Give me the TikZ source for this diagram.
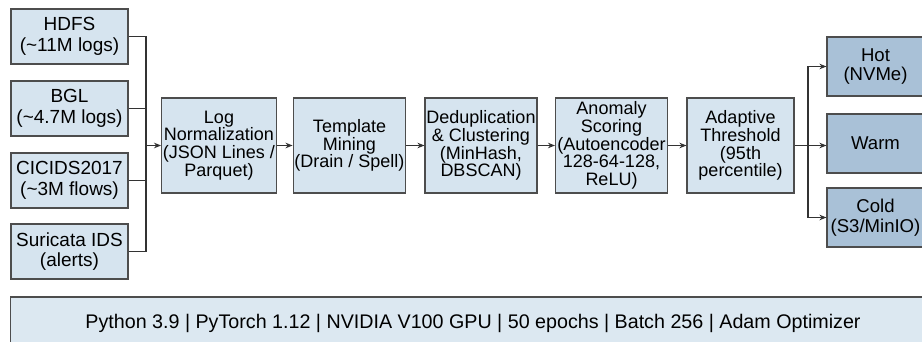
\documentclass[tikz,border=0pt]{standalone}
\usepackage{fontspec}
\setmainfont{Liberation Sans}
\usetikzlibrary{arrows.meta,positioning}
\definecolor{boxblue}{HTML}{D6E4EF}
\definecolor{storeblue}{HTML}{A9C1D7}
\definecolor{barblue}{HTML}{DCE8F1}
\definecolor{linegray}{HTML}{4D4D4D}

\begin{document}
\begin{tikzpicture}[x=0.025cm,y=-0.025cm,
    box/.style={draw=linegray,fill=boxblue,line width=0.8pt,align=center,inner sep=1pt,
                font=\fontsize{12.8}{12.6}\selectfont},
    src/.style={box,minimum width=2.925cm,minimum height=1.375cm,
                font=\fontsize{13.5}{14.5}\selectfont},
    proc/.style={box,minimum width=2.8cm,minimum height=2.375cm},
    store/.style={box,fill=storeblue,minimum width=2.425cm,minimum height=1.475cm,
                font=\fontsize{13.2}{14}\selectfont},
    wire/.style={draw=black!80,line width=0.8pt},
    arr/.style={wire,-{Stealth[length=5pt,width=4pt]}}]
    \useasboundingbox (0,0) rectangle (922,342);
    \clip (0,0) rectangle (922,342);
    % data sources
    \node[src] (hdfs) at (69.5,36.5)  {HDFS\\(\textasciitilde 11M logs)};
    \node[src] (bgl)  at (69.5,108.5) {BGL\\(\textasciitilde 4.7M logs)};
    \node[src] (cic)  at (69.5,180.5) {CICIDS2017\\(\textasciitilde 3M flows)};
    \node[src] (suri) at (69.5,251.5) {Suricata IDS\\(alerts)};
    \coordinate (bus) at (146,145.5);
    % pipeline
    \node[proc] (norm)   at (219,145.5)   {Log\\Normalization\\(JSON Lines /\\Parquet)};
    \node[proc] (tmpl)   at (349.5,145.5) {Template\\Mining\\(Drain / Spell)};
    \node[proc] (dedup)  at (481,145.5)   {Deduplication\\\& Clustering\\(MinHash,\\DBSCAN)};
    \node[proc] (score)  at (611.5,145.5) {Anomaly\\Scoring\\(Autoencoder\\128-64-128,\\ReLU)};
    \node[proc,minimum width=2.675cm] (thresh) at (740.5,145.5) {Adaptive\\Threshold\\(95th\\percentile)};
    \coordinate (fork) at (808,145.5);
    % storage tiers
    \node[store] (hot)  at (875.5,66.5)  {Hot\\(NVMe)};
    \node[store] (warm) at (875.5,143.5) {Warm};
    \node[store] (cold) at (875.5,217.5) {Cold\\(S3/MinIO)};
    % environment bar
    \node[box,fill=barblue,minimum width=23.1cm,minimum height=1.3cm,
          font=\fontsize{14}{16}\selectfont] (env) at (473,323)
          {Python 3.9 | PyTorch 1.12 | NVIDIA V100 GPU | 50 epochs | Batch 256 | Adam Optimizer};

    \foreach \s in {hdfs,bgl,cic,suri}
        \draw[wire] (\s.east) -| (bus);
    \draw[arr] (bus) -- (norm);
    \draw[arr] (norm) -- (tmpl);
    \draw[arr] (tmpl) -- (dedup);
    \draw[arr] (dedup) -- (score);
    \draw[arr] (score) -- (thresh);
    \draw[wire] (thresh) -- (fork);
    \draw[arr] (fork) |- (hot);
    \draw[arr] (fork) -- (fork -| warm.west);
    \draw[arr] (fork) |- (cold);
\end{tikzpicture}
\end{document}
